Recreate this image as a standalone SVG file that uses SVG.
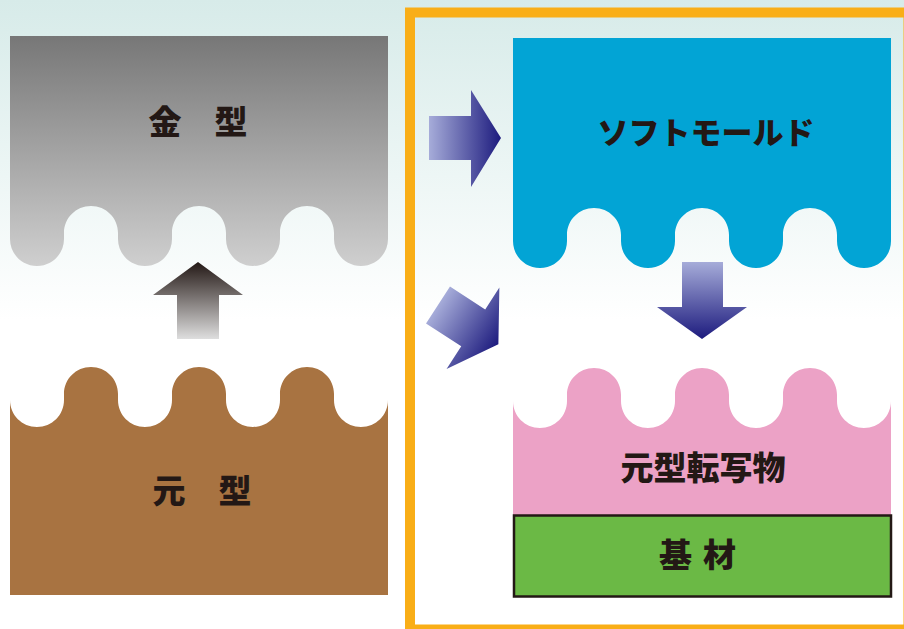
<svg xmlns="http://www.w3.org/2000/svg" width="904" height="629" viewBox="0 0 904 629">
<style>
.t{font-family:"Noto Sans CJK JP","Noto Sans CJK SC",sans-serif;font-weight:900;fill:#231815;}
</style>
<defs>
<linearGradient id="bg" x1="0" y1="0" x2="0" y2="320" gradientUnits="userSpaceOnUse">
<stop offset="0" stop-color="#d7ebe9"/>
<stop offset="1" stop-color="#ffffff"/>
</linearGradient>
<linearGradient id="gray" x1="0" y1="36" x2="0" y2="266" gradientUnits="userSpaceOnUse">
<stop offset="0" stop-color="#777777"/>
<stop offset="1" stop-color="#cfcfcf"/>
</linearGradient>
<linearGradient id="upg" x1="0" y1="262" x2="0" y2="339" gradientUnits="userSpaceOnUse">
<stop offset="0" stop-color="#231815"/>
<stop offset="1" stop-color="#dedede"/>
</linearGradient>
<linearGradient id="navyH" x1="0" y1="0" x2="72" y2="0" gradientUnits="userSpaceOnUse">
<stop offset="0" stop-color="#a6acd9"/>
<stop offset="1" stop-color="#1d1b7e"/>
</linearGradient>
<linearGradient id="navyV" x1="0" y1="262" x2="0" y2="339" gradientUnits="userSpaceOnUse">
<stop offset="0" stop-color="#a6acd9"/>
<stop offset="1" stop-color="#1d1b7e"/>
</linearGradient>
<path id="arrowR" d="M0,-22 H42 V-48 L72,0 L42,49 V22 H0 Z"/>
</defs>
<rect x="0" y="0" width="904" height="629" fill="url(#bg)"/>

<g id="kanagata">
<path fill="url(#gray)" d="M10,36 V239 c0,15 12,27 27,27 c15,0 27,-12 27,-27 v-6 c0,-15 12,-27 27,-27 c15,0 27,12 27,27 v6 c0,15 12,27 27,27 c15,0 27,-12 27,-27 v-6 c0,-15 12,-27 27,-27 c15,0 27,12 27,27 v6 c0,15 12,27 27,27 c15,0 27,-12 27,-27 v-6 c0,-15 12,-27 27,-27 c15,0 27,12 27,27 v6 c0,15 12,27 27,27 c15,0 27,-12 27,-27 V36 Z"/>
<text class="t" x="198" y="134" font-size="33" text-anchor="middle">金　型</text>
</g>

<g id="motogata">
<path fill="#a87341" d="M10,595 V400 c0,15 12,27 27,27 c15,0 27,-12 27,-27 v-6 c0,-15 12,-27 27,-27 c15,0 27,12 27,27 v6 c0,15 12,27 27,27 c15,0 27,-12 27,-27 v-6 c0,-15 12,-27 27,-27 c15,0 27,12 27,27 v6 c0,15 12,27 27,27 c15,0 27,-12 27,-27 v-6 c0,-15 12,-27 27,-27 c15,0 27,12 27,27 v6 c0,15 12,27 27,27 c15,0 27,-12 27,-27 V595 Z"/>
<text class="t" x="202" y="503" font-size="33" text-anchor="middle">元　型</text>
</g>

<g id="frame">
<rect x="410" y="12.5" width="498.5" height="617" fill="none" stroke="#f9ae17" stroke-width="10"/>
</g>

<g id="softmold">
<path fill="#02a4d5" d="M513,38 V241 c0,15 12,27 27,27 c15,0 27,-12 27,-27 v-6 c0,-15 12,-27 27,-27 c15,0 27,12 27,27 v6 c0,15 12,27 27,27 c15,0 27,-12 27,-27 v-6 c0,-15 12,-27 27,-27 c15,0 27,12 27,27 v6 c0,15 12,27 27,27 c15,0 27,-12 27,-27 v-6 c0,-15 12,-27 27,-27 c15,0 27,12 27,27 v6 c0,15 12,27 27,27 c15,0 27,-12 27,-27 V38 Z"/>
<text class="t" x="706" y="144" font-size="31" text-anchor="middle">ソフトモールド</text>
</g>

<g id="tensha">
<path fill="#eca2c6" d="M513,516 V401 c0,15 12,27 27,27 c15,0 27,-12 27,-27 v-6 c0,-15 12,-27 27,-27 c15,0 27,12 27,27 v6 c0,15 12,27 27,27 c15,0 27,-12 27,-27 v-6 c0,-15 12,-27 27,-27 c15,0 27,12 27,27 v6 c0,15 12,27 27,27 c15,0 27,-12 27,-27 v-6 c0,-15 12,-27 27,-27 c15,0 27,12 27,27 v6 c0,15 12,27 27,27 c15,0 27,-12 27,-27 V516 Z"/>
<text class="t" x="703" y="480" font-size="33" text-anchor="middle">元型転写物</text>
</g>

<g id="kizai">
<rect x="514" y="515.5" width="377" height="81" fill="#6bb945" stroke="#231815" stroke-width="2.5"/>
<text class="t" x="659" y="567" font-size="33" letter-spacing="11">基材</text>
</g>

<g id="connectors">
<polygon fill="url(#upg)" points="198,262 243,295 219,295 219,339 177,339 177,295 153,295"/>
<use href="#arrowR" fill="url(#navyH)" transform="translate(429,138)"/>
<use href="#arrowR" fill="url(#navyH)" transform="translate(438,305) rotate(33)"/>
<polygon fill="url(#navyV)" points="682,262 723,262 723,307 747,307 702,339 657,307 682,307"/>
</g>
</svg>
